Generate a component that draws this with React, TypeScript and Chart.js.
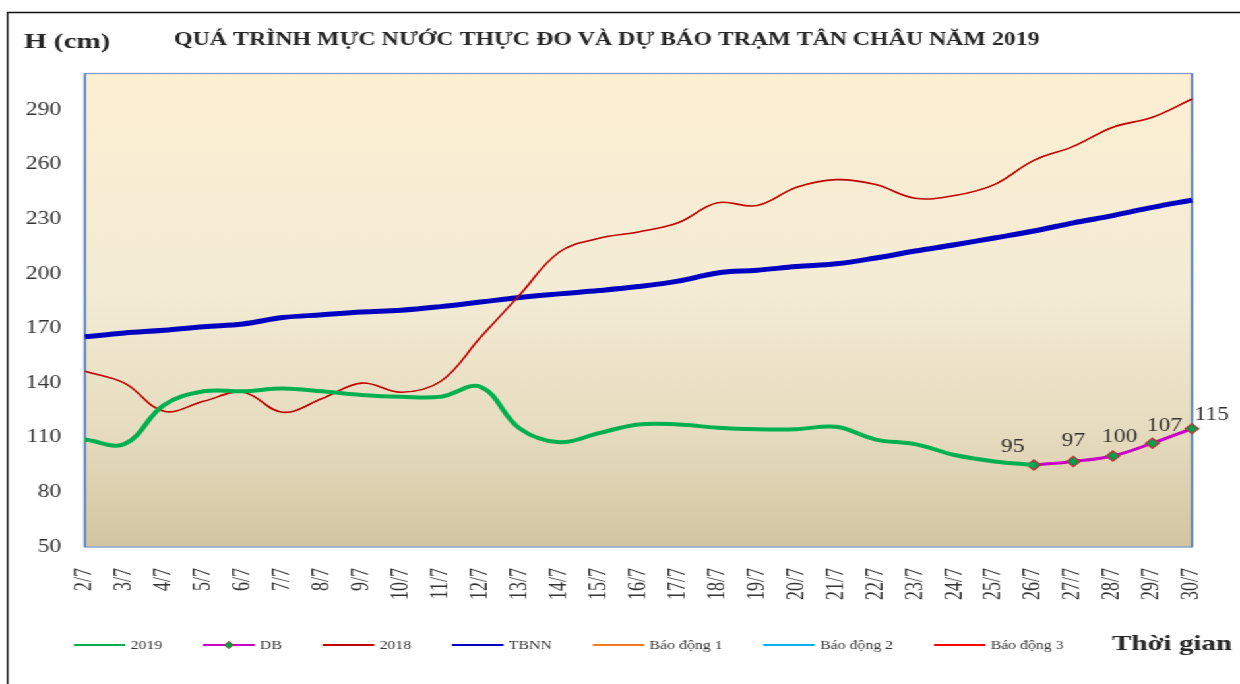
import React, { useEffect, useRef } from 'react';
import { Chart, registerables } from 'chart.js';

Chart.register(...registerables);

// ---------- data ----------
const categories = [
  '2/7', '3/7', '4/7', '5/7', '6/7', '7/7', '8/7', '9/7', '10/7', '11/7',
  '12/7', '13/7', '14/7', '15/7', '16/7', '17/7', '18/7', '19/7', '20/7', '21/7',
  '22/7', '23/7', '24/7', '25/7', '26/7', '27/7', '28/7', '29/7', '30/7',
];

const series2019 = [
  109, 106.5, 128, 135.5, 135.5, 137, 135.5, 133.5, 132.5, 132.5,
  138, 115, 107.5, 112.5, 117.3, 117.3, 115.5, 114.7, 114.7, 116,
  109, 106.5, 100.5, 97, 95, null, null, null, null,
];

const seriesDB = [
  null, null, null, null, null, null, null, null, null, null,
  null, null, null, null, null, null, null, null, null, null,
  null, null, null, null, 95, 97, 100, 107, 115,
];

const series2018 = [
  146.5, 140, 124.5, 130, 135, 124, 131.5, 140, 135, 141,
  165, 188.5, 212, 219.5, 223, 228, 239, 237.5, 247.5, 251.7,
  249, 241.5, 243, 249, 262.3, 270, 280.5, 286, 296,
];

const seriesTBNN = [
  165.4, 167.5, 169, 171, 172.5, 176, 177.5, 179, 180, 182,
  184.5, 187, 189, 190.8, 193, 196, 200.5, 202, 204, 205.5,
  208.7, 212.5, 216, 219.7, 223.5, 228, 232, 236.5, 240.5,
];

const seriesAlarm1: (number | null)[] = [];
const seriesAlarm2: (number | null)[] = [];
const seriesAlarm3: (number | null)[] = [];

const yTicks = [50, 80, 110, 140, 170, 200, 230, 260, 290];
const yMin = 50;
const yMax = 310;

const titleText = 'QUÁ TRÌNH MỰC NƯỚC THỰC ĐO VÀ DỰ BÁO TRẠM TÂN CHÂU NĂM 2019';
const yTitleText = 'H (cm)';
const xTitleText = 'Thời gian';

// ---------- layout (logical canvas, stretched horizontally) ----------
const W = 940;
const H = 684;
const STRETCH = 1240 / W;
const PLOT_LEFT = 64.4;
const PLOT_RIGHT = 903.6;
const PLOT_TOP = 73.5;
const PLOT_BOTTOM = 547;
const SERIF = "'Liberation Serif', 'Times New Roman', serif";
const TEXT = '#333333';

// label offsets (logical px) for forecast value labels
const dbLabelShift = [
  [-16, -18],
  [0, -20],
  [5, -19],
  [9, -17],
  [15, -13],
];

const decorPlugin = {
  id: 'decor',
  beforeDraw(chart: any) {
    const { ctx, chartArea: a } = chart;
    ctx.save();
    ctx.fillStyle = '#ffffff';
    ctx.fillRect(0, 0, chart.width, chart.height);
    const g = ctx.createLinearGradient(0, a.top, 0, a.bottom);
    g.addColorStop(0, '#FDEFD2');
    g.addColorStop(0.45, '#F4ECD5');
    g.addColorStop(0.75, '#E6DCBF');
    g.addColorStop(1, '#D3C5A1');
    ctx.fillStyle = g;
    ctx.fillRect(a.left, a.top, a.right - a.left, a.bottom - a.top);
    // outer frame
    ctx.strokeStyle = '#111111';
    ctx.lineWidth = 1.4;
    ctx.beginPath();
    ctx.moveTo(5.7, H + 5);
    ctx.lineTo(5.7, 12.5);
    ctx.lineTo(W + 5, 12.5);
    ctx.stroke();
    ctx.restore();
  },
  beforeDatasetsDraw(chart: any) {
    const { ctx, chartArea: a } = chart;
    ctx.save();
    ctx.lineWidth = 1.3;
    ctx.strokeStyle = '#7C9DD3';
    ctx.strokeRect(a.left, a.top, a.right - a.left, a.bottom - a.top);
    ctx.strokeStyle = '#4F7FC4';
    ctx.lineWidth = 1.5;
    ctx.beginPath();
    ctx.moveTo(a.left, a.top);
    ctx.lineTo(a.left, a.bottom);
    ctx.moveTo(a.right, a.top);
    ctx.lineTo(a.right, a.bottom);
    ctx.stroke();
    ctx.restore();
  },
  afterDraw(chart: any) {
    const { ctx } = chart;
    ctx.save();
    ctx.fillStyle = '#262626';
    ctx.textBaseline = 'middle';
    ctx.textAlign = 'left';

    // title
    ctx.font = `bold 19px ${SERIF}`;
    const tw = ctx.measureText(titleText).width;
    ctx.save();
    ctx.translate(132, 40);
    ctx.scale(656 / tw, 1);
    ctx.fillText(titleText, 0, 0);
    ctx.restore();

    // y title
    ctx.font = `bold 22px ${SERIF}`;
    ctx.fillText(yTitleText, 18.2, 42);

    // x title
    ctx.font = `bold 22px ${SERIF}`;
    ctx.fillText(xTitleText, 843, 644);

    // value labels for forecast
    const meta = chart.getDatasetMeta(1);
    const ds = chart.data.datasets[1].data as (number | null)[];
    ctx.font = `18px ${SERIF}`;
    ctx.fillStyle = TEXT;
    ctx.textAlign = 'center';
    let k = 0;
    ds.forEach((v, i) => {
      if (v === null || v === undefined) return;
      const p = meta.data[i];
      const s = dbLabelShift[k] || [0, -18];
      ctx.fillText(String(v), p.x + s[0], p.y + s[1]);
      k++;
    });

    // legend
    const ly = 645;
    let x = 56;
    ctx.font = `12px ${SERIF}`;
    ctx.textAlign = 'left';
    chart.data.datasets.forEach((d: any) => {
      ctx.strokeStyle = d.borderColor;
      ctx.lineWidth = 1.8;
      ctx.beginPath();
      ctx.moveTo(x, ly);
      ctx.lineTo(x + 39, ly);
      ctx.stroke();
      if (d.pointRadius && d.pointRadius > 0) {
        const cx = x + 19.5;
        const r = 3.6;
        ctx.beginPath();
        ctx.moveTo(cx, ly - r);
        ctx.lineTo(cx + r, ly);
        ctx.lineTo(cx, ly + r);
        ctx.lineTo(cx - r, ly);
        ctx.closePath();
        ctx.fillStyle = d.pointBackgroundColor;
        ctx.fill();
        ctx.strokeStyle = d.pointBorderColor;
        ctx.lineWidth = 1;
        ctx.stroke();
      }
      ctx.fillStyle = TEXT;
      ctx.fillText(d.label, x + 43, ly + 0.5);
      x += 43 + ctx.measureText(d.label).width + 31;
    });
    ctx.restore();
  },
};

export default function App() {
  const ref = useRef<HTMLCanvasElement>(null);

  useEffect(() => {
    const canvas = ref.current;
    if (!canvas) return;
    const line = (label: string, data: (number | null)[], color: string, width: number, extra: any = {}) => ({
      label,
      data,
      borderColor: color,
      backgroundColor: color,
      borderWidth: width,
      pointRadius: 0,
      tension: 0.38,
      fill: false,
      ...extra,
    });
    const chart = new Chart(canvas, {
      type: 'line',
      data: {
        labels: categories,
        datasets: [
          line('2019', series2019, '#00B050', 4),
          line('DB', seriesDB, '#C800C8', 3, {
            pointRadius: 5,
            pointStyle: 'rectRot',
            pointBackgroundColor: '#00A050',
            pointBorderColor: '#B23A3A',
            pointBorderWidth: 1.4,
            clip: false,
          }),
          line('2018', series2018, '#C00000', 1.6),
          line('TBNN', seriesTBNN, '#0000C0', 5),
          line('Báo động 1', seriesAlarm1, '#F47B20', 2),
          line('Báo động 2', seriesAlarm2, '#00B0F0', 2),
          line('Báo động 3', seriesAlarm3, '#FF0000', 2),
        ],
      },
      options: {
        responsive: false,
        animation: false,
        devicePixelRatio: 1,
        events: [],
        layout: {
          padding: { left: 0, top: PLOT_TOP, right: W - PLOT_RIGHT, bottom: 0 },
        },
        plugins: {
          legend: { display: false },
          title: { display: false },
          tooltip: { enabled: false },
        },
        scales: {
          x: {
            type: 'category',
            offset: false,
            grid: { display: false, drawTicks: false },
            border: { display: false },
            ticks: {
              autoSkip: false,
              minRotation: 90,
              maxRotation: 90,
              padding: 21,
              color: TEXT,
              font: { family: SERIF, size: 18 },
            },
            afterFit: (s: any) => {
              s.height = H - PLOT_BOTTOM;
              s.paddingLeft = 0;
              s.paddingRight = 0;
              s.paddingTop = 0;
              s.paddingBottom = 0;
            },
          },
          y: {
            type: 'linear',
            min: yMin,
            max: yMax,
            grid: { display: false, drawTicks: false },
            border: { display: false },
            ticks: {
              padding: 18,
              color: TEXT,
              font: { family: SERIF, size: 18 },
            },
            afterBuildTicks: (axis: any) => {
              axis.ticks = yTicks.map((v) => ({ value: v }));
            },
            afterFit: (s: any) => {
              s.width = PLOT_LEFT;
              s.paddingLeft = 0;
              s.paddingRight = 0;
              s.paddingTop = 0;
              s.paddingBottom = 0;
            },
          },
        },
      } as any,
      plugins: [decorPlugin],
    });
    return () => chart.destroy();
  }, []);

  return (
    <div
      style={{
        position: 'fixed',
        left: 0,
        top: 0,
        width: W,
        height: H,
        transform: `scaleX(${STRETCH})`,
        transformOrigin: '0 0',
        background: '#ffffff',
      }}
    >
      <canvas ref={ref} width={W} height={H} style={{ width: W, height: H, display: 'block' }} />
    </div>
  );
}
